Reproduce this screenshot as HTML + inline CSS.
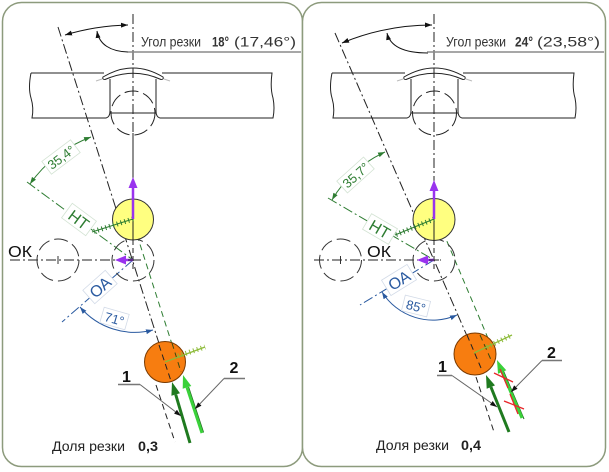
<!DOCTYPE html>
<html><head><meta charset="utf-8">
<style>
html,body{margin:0;padding:0;background:#fff}
svg{display:block}
text{font-family:"Liberation Sans","DejaVu Sans",sans-serif}
</style></head>
<body>
<svg width="609" height="472" viewBox="0 0 609 472" xmlns="http://www.w3.org/2000/svg">
<defs>
<marker id="mk" viewBox="0 0 10 10" refX="10" refY="5" markerWidth="7" markerHeight="7" markerUnits="userSpaceOnUse" orient="auto-start-reverse"><path d="M0,1.5L10,5L0,8.5z" fill="#111"/></marker>
<marker id="mg" viewBox="0 0 10 10" refX="10" refY="5" markerWidth="7" markerHeight="7" markerUnits="userSpaceOnUse" orient="auto-start-reverse"><path d="M0,1.5L10,5L0,8.5z" fill="#2e7d32"/></marker>
<marker id="mb" viewBox="0 0 10 10" refX="10" refY="5" markerWidth="7" markerHeight="7" markerUnits="userSpaceOnUse" orient="auto-start-reverse"><path d="M0,1.5L10,5L0,8.5z" fill="#2a5aa0"/></marker>
</defs>

<!-- panels -->
<rect x="2.5" y="2.5" width="300" height="464" rx="19" fill="#fff" stroke="#8d9b7d" stroke-width="1.5"/>
<rect x="302.5" y="2.5" width="303" height="464" rx="19" fill="#fff" stroke="#8d9b7d" stroke-width="1.5"/>

<!-- ================= LEFT PANEL ================= -->
<g fill="none" stroke="#222" stroke-width="1">
  <path d="M31,73 L104,73"/>
  <path d="M31,73 Q28,88 31,98 Q34,108 32,118 L106,118 Q110,117 110,111 L110,79"/>
  <path d="M162,73 L272,73 Q270,88 273,98 Q275,108 273,118 L160,118 Q156,117 156,111 L156,79"/>
  <path d="M103,77 Q133,59 163,77 Q164,79.5 161,79.5 Q133,67 105,79.5 Q102,79.5 103,77Z" fill="#fff"/>
  <line x1="110" y1="113" x2="156" y2="113"/>
  <circle cx="133" cy="113" r="22" stroke-dasharray="14 5"/>
</g>
<line x1="96" y1="81" x2="102" y2="79" stroke="#bbb"/>
<line x1="164" y1="79" x2="170" y2="81" stroke="#bbb"/>

<!-- axes -->
<line x1="133" y1="14" x2="133" y2="133" stroke="#222" stroke-dasharray="10 3 2 3"/>
<line x1="133" y1="133" x2="133" y2="219" stroke="#222"/>
<line x1="133" y1="240" x2="133" y2="272" stroke="#222" stroke-dasharray="5 3"/>
<line x1="58" y1="27" x2="171" y2="381" stroke="#222" stroke-dasharray="10 3 2 3"/>
<line x1="156" y1="385" x2="175" y2="442" stroke="#222" stroke-dasharray="6 4"/>
<line x1="137" y1="235" x2="179" y2="366" stroke="#2e7d32" stroke-dasharray="6 4"/>
<line x1="10" y1="260" x2="141" y2="260" stroke="#222" stroke-dasharray="10 3 2 3"/>
<line x1="27" y1="182" x2="133" y2="260" stroke="#2e7d32" stroke-dasharray="10 3 2 3"/>
<line x1="133" y1="260" x2="62" y2="322" stroke="#2a5aa0" stroke-dasharray="10 3 2 3"/>

<!-- dashed circles -->
<g fill="none" stroke="#333">
  <circle cx="58" cy="260" r="21" stroke-dasharray="14 5"/>
  <circle cx="133" cy="260" r="21" stroke-dasharray="14 5"/>
  <line x1="58" y1="256" x2="58" y2="264"/>
</g>

<!-- top angle -->
<path d="M65,35 A237,237 0 0,1 128,25" fill="none" stroke="#111" marker-start="url(#mk)" marker-end="url(#mk)"/>
<path d="M97,31 C99,44 110,52 130,52" fill="none" stroke="#111" marker-start="url(#mk)"/>
<line x1="128" y1="52" x2="301" y2="52" stroke="#8a8a8a" stroke-width="1.5"/>
<g fill="#333" font-size="14">
  <text x="141" y="46.5" textLength="60" lengthAdjust="spacingAndGlyphs">Угол резки</text>
  <text x="212" y="46.5" font-weight="bold" textLength="17" lengthAdjust="spacingAndGlyphs">18°</text>
  <text x="234" y="46.5" textLength="62" lengthAdjust="spacingAndGlyphs">(17,46°)</text>
</g>

<!-- dimension arcs -->
<path d="M30,184 A129,129 0 0,1 91,137" fill="none" stroke="#2e7d32" marker-start="url(#mg)" marker-end="url(#mg)"/>
<path d="M80,307 A72,72 0 0,0 153,330" fill="none" stroke="#2a5aa0" marker-start="url(#mb)" marker-end="url(#mb)"/>

<!-- yellow & orange -->
<circle cx="133" cy="219.5" r="20.5" fill="#ffff80" stroke="#333"/>
<line x1="133" y1="198" x2="133" y2="241" stroke="#222"/>
<circle cx="165" cy="362" r="20.5" fill="#f77d10" stroke="#7a3a00"/>
<line x1="159" y1="345" x2="171" y2="381" stroke="#222" stroke-dasharray="6 4"/>
<line x1="172" y1="343" x2="181" y2="372" stroke="#3a4a10" stroke-dasharray="6 4"/>

<!-- hatch lines -->
<line x1="133" y1="219" x2="92" y2="232" stroke="#2e7d32"/>
<line x1="133" y1="219" x2="92" y2="232" stroke="#2e7d32" stroke-width="5" stroke-dasharray="1 3"/>
<line x1="165" y1="362" x2="205" y2="347" stroke="#8dbb3a" stroke-width="1.3"/>
<line x1="178" y1="356" x2="205" y2="347" stroke="#8dbb3a" stroke-width="5" stroke-dasharray="1 3"/>

<!-- purple arrows -->
<line x1="133" y1="219" x2="133" y2="187" stroke="#9933ee" stroke-width="2.5"/>
<polygon points="133,177 128.5,188 137.5,188" fill="#9933ee"/>
<line x1="133" y1="260" x2="125" y2="260" stroke="#9933ee" stroke-width="2.5"/>
<polygon points="115,260 126,255.5 126,264.5" fill="#9933ee"/>
<line x1="128" y1="260" x2="138" y2="260" stroke="#222"/>

<!-- green arrows -->
<line x1="190" y1="443" x2="175.7" y2="394.5" stroke="#1f7a1f" stroke-width="3"/>
<polygon points="172,382 180,393.2 171.4,395.8" fill="#1f7a1f"/>
<line x1="188.6" y1="387" x2="203.6" y2="432.5" stroke="#1f6a1f" stroke-width="1"/>
<line x1="202" y1="433" x2="187" y2="387.4" stroke="#3ad13a" stroke-width="3"/>
<polygon points="183,375 191.3,386 182.7,388.8" fill="#3ad13a"/>

<!-- labels 1,2 -->
<g font-size="16" font-weight="bold" fill="#111" text-anchor="middle">
  <text x="126.5" y="382">1</text>
  <text x="234" y="373">2</text>
</g>
<line x1="118" y1="384.5" x2="140" y2="384.5" stroke="#777" stroke-width="1.5"/>
<line x1="140" y1="384.5" x2="181" y2="416" stroke="#666" marker-end="url(#mk)"/>
<line x1="224" y1="378.5" x2="245" y2="378.5" stroke="#777" stroke-width="1.5"/>
<line x1="224" y1="378.5" x2="195" y2="409" stroke="#666" marker-end="url(#mk)"/>

<!-- text labels -->
<text x="8" y="257" font-size="16" fill="#111" textLength="24" lengthAdjust="spacingAndGlyphs">ОК</text>
<g transform="translate(61,157) rotate(-37)"><rect x="-18" y="-8" width="36" height="16" fill="#fff" stroke="#d3e3d3" stroke-width="0.8"/><text x="0" y="5" text-anchor="middle" font-size="13" fill="#2e7d32">35,4°</text></g>
<g transform="translate(79,219.5) rotate(36.4)"><rect x="-15" y="-9" width="30" height="18" fill="#fff" stroke="#d3e3d3" stroke-width="0.8"/><text x="0" y="6" text-anchor="middle" font-size="16" fill="#2e7d32">НТ</text></g>
<g transform="translate(100,287) rotate(-41.6)"><rect x="-15" y="-9" width="30" height="18" fill="#fff" stroke="#d3dbe8" stroke-width="0.8"/><text x="0" y="6" text-anchor="middle" font-size="16" fill="#2a5aa0">ОА</text></g>
<g transform="translate(114.5,318.5) rotate(16)"><rect x="-13" y="-8" width="26" height="16" fill="#fff" stroke="#d3dbe8" stroke-width="0.8"/><text x="0" y="5" text-anchor="middle" font-size="13" fill="#2a5aa0">71°</text></g>

<g fill="#222" font-size="14">
  <text x="52" y="451" textLength="73" lengthAdjust="spacingAndGlyphs">Доля резки</text>
  <text x="138" y="451" font-weight="bold" textLength="20" lengthAdjust="spacingAndGlyphs">0,3</text>
</g>

<!-- ================= RIGHT PANEL ================= -->
<g fill="none" stroke="#222" stroke-width="1">
  <path d="M332,73 L405,73"/>
  <path d="M332,73 Q329,88 332,98 Q335,108 333,118 L407,118 Q411,117 411,111 L411,79"/>
  <path d="M463,73 L574,73 Q572,88 575,98 Q577,108 575,118 L462,118 Q458,117 458,111 L458,79"/>
  <path d="M404,77 Q434.5,59 465,77 Q466,79.5 463,79.5 Q434.5,67 406,79.5 Q403,79.5 404,77Z" fill="#fff"/>
  <line x1="411" y1="113" x2="458" y2="113"/>
  <circle cx="434.5" cy="113" r="22" stroke-dasharray="14 5"/>
</g>
<line x1="397" y1="81" x2="403" y2="79" stroke="#bbb"/>
<line x1="466" y1="79" x2="472" y2="81" stroke="#bbb"/>

<line x1="434" y1="14" x2="434" y2="219" stroke="#222" stroke-dasharray="10 3 2 3"/>
<line x1="434" y1="240" x2="434" y2="272" stroke="#222" stroke-dasharray="5 3"/>
<line x1="335" y1="33" x2="481" y2="368" stroke="#222" stroke-dasharray="10 3 2 3"/>
<line x1="476" y1="377" x2="494" y2="432" stroke="#222" stroke-dasharray="6 4"/>
<line x1="443" y1="232" x2="493" y2="350" stroke="#2e7d32" stroke-dasharray="6 4"/>
<line x1="314" y1="260" x2="441" y2="260" stroke="#222" stroke-dasharray="10 3 2 3"/>
<line x1="328" y1="198" x2="434" y2="260" stroke="#2e7d32" stroke-dasharray="10 3 2 3"/>
<line x1="434" y1="260" x2="360" y2="305" stroke="#2a5aa0" stroke-dasharray="10 3 2 3"/>

<g fill="none" stroke="#333">
  <circle cx="340.5" cy="260" r="21" stroke-dasharray="14 5"/>
  <circle cx="434" cy="260" r="21" stroke-dasharray="14 5"/>
  <line x1="340.5" y1="256" x2="340.5" y2="264"/>
</g>

<path d="M342,43 A235,235 0 0,1 432,25" fill="none" stroke="#111" marker-start="url(#mk)" marker-end="url(#mk)"/>
<path d="M387,33 C390,46 403,53 428,53" fill="none" stroke="#111" marker-start="url(#mk)"/>
<line x1="427" y1="52" x2="604" y2="52" stroke="#8a8a8a" stroke-width="1.5"/>
<g fill="#333" font-size="14">
  <text x="446" y="46.5" textLength="60" lengthAdjust="spacingAndGlyphs">Угол резки</text>
  <text x="515" y="46.5" font-weight="bold" textLength="18" lengthAdjust="spacingAndGlyphs">24°</text>
  <text x="537" y="46.5" textLength="63" lengthAdjust="spacingAndGlyphs">(23,58°)</text>
</g>

<path d="M332,200 A118,118 0 0,1 385,152" fill="none" stroke="#2e7d32" marker-start="url(#mg)" marker-end="url(#mg)"/>
<path d="M382,292 A60,60 0 0,0 457,315" fill="none" stroke="#2a5aa0" marker-start="url(#mb)" marker-end="url(#mb)"/>

<circle cx="434" cy="219.5" r="21" fill="#ffff80" stroke="#333"/>
<line x1="434" y1="198" x2="434" y2="241" stroke="#222"/>
<circle cx="475" cy="354" r="21" fill="#f77d10" stroke="#7a3a00"/>
<line x1="467" y1="335" x2="481" y2="368" stroke="#222" stroke-dasharray="6 4"/>
<line x1="480" y1="335" x2="492" y2="362" stroke="#3a4a10" stroke-dasharray="6 4"/>

<line x1="434" y1="219" x2="395" y2="235" stroke="#2e7d32"/>
<line x1="434" y1="219" x2="395" y2="235" stroke="#2e7d32" stroke-width="5" stroke-dasharray="1 3"/>
<line x1="474" y1="353" x2="512" y2="335" stroke="#8dbb3a" stroke-width="1.3"/>
<line x1="487" y1="347" x2="512" y2="335" stroke="#8dbb3a" stroke-width="5" stroke-dasharray="1 3"/>

<line x1="434" y1="219" x2="434" y2="190" stroke="#9933ee" stroke-width="2.5"/>
<polygon points="434,180 429.5,191 438.5,191" fill="#9933ee"/>
<line x1="434" y1="260" x2="427" y2="260" stroke="#9933ee" stroke-width="2.5"/>
<polygon points="417,260 428,255.5 428,264.5" fill="#9933ee"/>
<line x1="429" y1="260" x2="439" y2="260" stroke="#222"/>

<line x1="509" y1="432" x2="490.9" y2="387" stroke="#1f7a1f" stroke-width="3"/>
<polygon points="486,375 495,385.4 486.7,388.7" fill="#1f7a1f"/>
<line x1="503.5" y1="371" x2="524" y2="419" stroke="#1f6a1f" stroke-width="1"/>
<line x1="522" y1="418" x2="502.1" y2="371.9" stroke="#3ad13a" stroke-width="3"/>
<polygon points="497,360 506.3,370.2 498,373.7" fill="#3ad13a"/>

<!-- red crosses -->
<g stroke="#e8262a" stroke-width="1.3">
  <line x1="494" y1="373" x2="513" y2="382"/>
  <line x1="500" y1="369" x2="508" y2="388"/>
  <line x1="504" y1="401" x2="524" y2="409"/>
  <line x1="510" y1="394" x2="518" y2="414"/>
</g>

<g font-size="16" font-weight="bold" fill="#111" text-anchor="middle">
  <text x="442.5" y="372">1</text>
  <text x="551.5" y="358">2</text>
</g>
<line x1="437" y1="375.5" x2="452" y2="375.5" stroke="#777" stroke-width="1.5"/>
<line x1="452" y1="375.5" x2="497" y2="407" stroke="#666" marker-end="url(#mk)"/>
<line x1="542" y1="360.5" x2="562" y2="360.5" stroke="#777" stroke-width="1.5"/>
<line x1="542" y1="360.5" x2="511" y2="392" stroke="#666" marker-end="url(#mk)"/>

<text x="367" y="257" font-size="16" fill="#111" textLength="24" lengthAdjust="spacingAndGlyphs">ОК</text>
<g transform="translate(355.5,175) rotate(-42)"><rect x="-18" y="-8" width="36" height="16" fill="#fff" stroke="#d3e3d3" stroke-width="0.8"/><text x="0" y="5" text-anchor="middle" font-size="13" fill="#2e7d32">35,7°</text></g>
<g transform="translate(380,229) rotate(30.3)"><rect x="-15" y="-9" width="30" height="18" fill="#fff" stroke="#d3e3d3" stroke-width="0.8"/><text x="0" y="6" text-anchor="middle" font-size="16" fill="#2e7d32">НТ</text></g>
<g transform="translate(399,280) rotate(-31.6)"><rect x="-15" y="-9" width="30" height="18" fill="#fff" stroke="#d3dbe8" stroke-width="0.8"/><text x="0" y="6" text-anchor="middle" font-size="16" fill="#2a5aa0">ОА</text></g>
<g transform="translate(416,306) rotate(14)"><rect x="-13" y="-8" width="26" height="16" fill="#fff" stroke="#d3dbe8" stroke-width="0.8"/><text x="0" y="5" text-anchor="middle" font-size="13" fill="#2a5aa0">85°</text></g>

<g fill="#222" font-size="14">
  <text x="376" y="450" textLength="73" lengthAdjust="spacingAndGlyphs">Доля резки</text>
  <text x="461" y="450" font-weight="bold" textLength="20" lengthAdjust="spacingAndGlyphs">0,4</text>
</g>
</svg>
</body></html>
